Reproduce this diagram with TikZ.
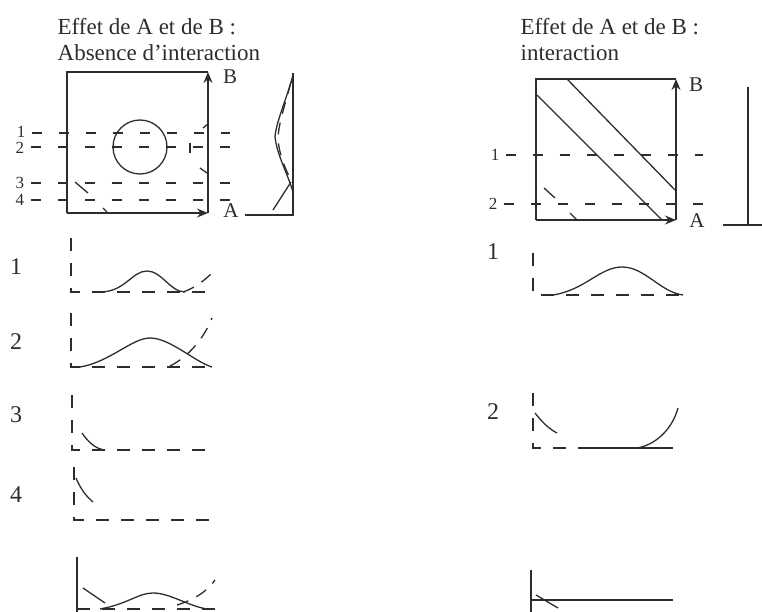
\documentclass[tikz,border=0pt]{standalone}
\usepackage{fontspec}
\setmainfont{Liberation Serif}
\usepackage{tikz}
\usetikzlibrary{arrows.meta,positioning}
\definecolor{inkGray}{RGB}{45,45,45}

\begin{document}
\begin{tikzpicture}[
  x=1pt, y=-1pt,
  line width=1.3pt,
  draw=inkGray,
  title/.style={
    anchor=north west,
    align=left,
    inner sep=0pt,
    text=inkGray,
    font=\fontsize{23}{26}\selectfont
  },
  axislabel/.style={inner sep=0pt, text=inkGray, font=\fontsize{21}{21}\selectfont},
  cutlabel/.style={inner sep=0pt, text=inkGray, font=\fontsize{17}{17}\selectfont},
  rowlabel/.style={inner sep=0pt, text=inkGray, font=\fontsize{24}{24}\selectfont},
  axisarrow/.style={-{Stealth[length=11pt,width=9pt]}, line width=1.5pt, inkGray},
  cutline/.style={dash pattern=on 10pt off 17pt, line width=1.4pt, inkGray},
  profaxis/.style={dash pattern=on 13pt off 12pt, line width=1.4pt, inkGray},
  curve/.style={line width=1.3pt, inkGray},
  dcurve/.style={dash pattern=on 12pt off 9pt, line width=1.3pt, inkGray}
]
\useasboundingbox (0,0) rectangle (762,612);

% ---- left panel: no interaction
\node[title] (titleL) at (57,18) {Effet de A et de B :\\Absence d'interaction};

\coordinate (oL) at (67,213);
\coordinate (aL) at (208,213);
\coordinate (bL) at (208,72);
\coordinate (cL) at (67,72);
\draw[curve] (oL) -- (cL) -- (bL);
\draw[axisarrow] (oL) -- (aL);
\draw[axisarrow] (aL) -- (bL);
\node[axislabel] (labBL) at (230,77) {B};
\node[axislabel] (labAL) at (231,211) {A};

\draw[curve] (140,147) circle (27);
% visible pieces of the dashed responses
\draw[curve] (203,128) -- (208,124);
\draw[curve] (190,143) -- (190,153);
\draw[curve] (200,168) -- (207,173);
\draw[curve] (75,182) -- (88,193);
\draw[curve] (103,208) -- (107,212);

\node[cutlabel] (c1L) at (21,132) {1};
\node[cutlabel] (c2L) at (20,148) {2};
\node[cutlabel] (c3L) at (20,183) {3};
\node[cutlabel] (c4L) at (20,200) {4};
\foreach \yy/\nm in {133/c1L,147/c2L,183/c3L,200/c4L}
  \draw[cutline] (\nm.east |- 0,\yy) ++(6,0) -- (230,\yy);

% side profile
\coordinate (sTopL) at (293,73);
\coordinate (sBotL) at (293,215);
\draw[curve] (sTopL) -- (sBotL) -- (245,215);
\draw[curve] (293,75) .. controls (287,98) and (276,122) .. (275,137)
  .. controls (277,155) and (287,172) .. (293,192);
\draw[dcurve] (291,82) .. controls (285,105) and (278,125) .. (278,140)
  .. controls (280,158) and (286,170) .. (291,180);
\draw[curve] (291,182) -- (273,210);

% profiles for the cuts
\node[rowlabel] (r1L) at (16,267) {1};
\node[rowlabel] (r2L) at (16,342) {2};
\node[rowlabel] (r3L) at (16,415) {3};
\node[rowlabel] (r4L) at (16,495) {4};

\draw[profaxis] (71,238) -- (71,292) -- (213,292);
\draw[curve] (100,292) .. controls (125,292) and (132,271) .. (147,271)
  .. controls (162,271) and (170,292) .. (185,292);
\draw[dcurve] (183,292) .. controls (195,288) and (205,280) .. (213,272);

\draw[profaxis] (71,313) -- (71,367) -- (213,367);
\draw[curve] (80,367) .. controls (110,362) and (132,338) .. (150,338)
  .. controls (170,338) and (195,362) .. (212,367);
\draw[dcurve] (170,366) .. controls (190,356) and (205,336) .. (212,318);

\draw[profaxis] (72,395) -- (72,450) -- (215,450);
\draw[curve] (82,433) .. controls (89,443) and (96,449) .. (105,450);

\draw[profaxis] (74,467) -- (74,520) -- (215,520);
\draw[curve] (76,478) .. controls (81,490) and (87,497) .. (93,502);

% summed profile
\draw[curve] (77,557) -- (77,612);
\draw[profaxis] (77,609) -- (215,609);
\draw[curve] (100,609) .. controls (128,604) and (138,593) .. (153,593)
  .. controls (170,593) and (188,606) .. (207,609);
\draw[curve] (83,588) -- (105,603);
\draw[dcurve] (177,605) .. controls (193,600) and (207,592) .. (215,580);

% ---- right panel: interaction
\node[title] (titleR) at (520,18) {Effet de A et de B :\\interaction};

\coordinate (oR) at (536,220);
\coordinate (aR) at (676,220);
\coordinate (bR) at (676,79);
\coordinate (cR) at (536,79);
\draw[curve] (oR) -- (cR) -- (bR);
\draw[axisarrow] (oR) -- (aR);
\draw[axisarrow] (aR) -- (bR);
\node[axislabel] (labBR) at (696,85) {B};
\node[axislabel] (labAR) at (697,221) {A};

\draw[curve] (537,95) -- (662,220);
\draw[curve] (567,79) -- (675,190);
\draw[curve] (544,188) -- (555,198);
\draw[curve] (570,213) -- (577,220);

\node[cutlabel] (c1R) at (495,155) {1};
\node[cutlabel] (c2R) at (493,204) {2};
\foreach \yy/\nm in {155/c1R,204/c2R}
  \draw[cutline] (\nm.east |- 0,\yy) ++(6,0) -- (703,\yy);

% side profile
\draw[curve] (748,87) -- (748,225);
\draw[curve] (723,225) -- (762,225);

% profiles for the cuts
\node[rowlabel] (r1R) at (493,252) {1};
\node[rowlabel] (r2R) at (493,412) {2};

\draw[profaxis] (533,253) -- (533,295) -- (685,295);
\draw[curve] (553,295) .. controls (585,290) and (600,267) .. (622,267)
  .. controls (645,267) and (660,292) .. (683,295);

\draw[profaxis] (533,393) -- (533,448) -- (580,448);
\draw[curve] (580,448) -- (673,448);
\draw[curve] (535,413) .. controls (542,422) and (549,429) .. (557,433);
\draw[curve] (637,448) .. controls (655,445) and (672,430) .. (678,408);

% summed profile
\draw[curve] (531,570) -- (531,612);
\draw[curve] (531,600) -- (673,600);
\draw[curve] (536,595) -- (558,608);

\end{tikzpicture}
\end{document}
